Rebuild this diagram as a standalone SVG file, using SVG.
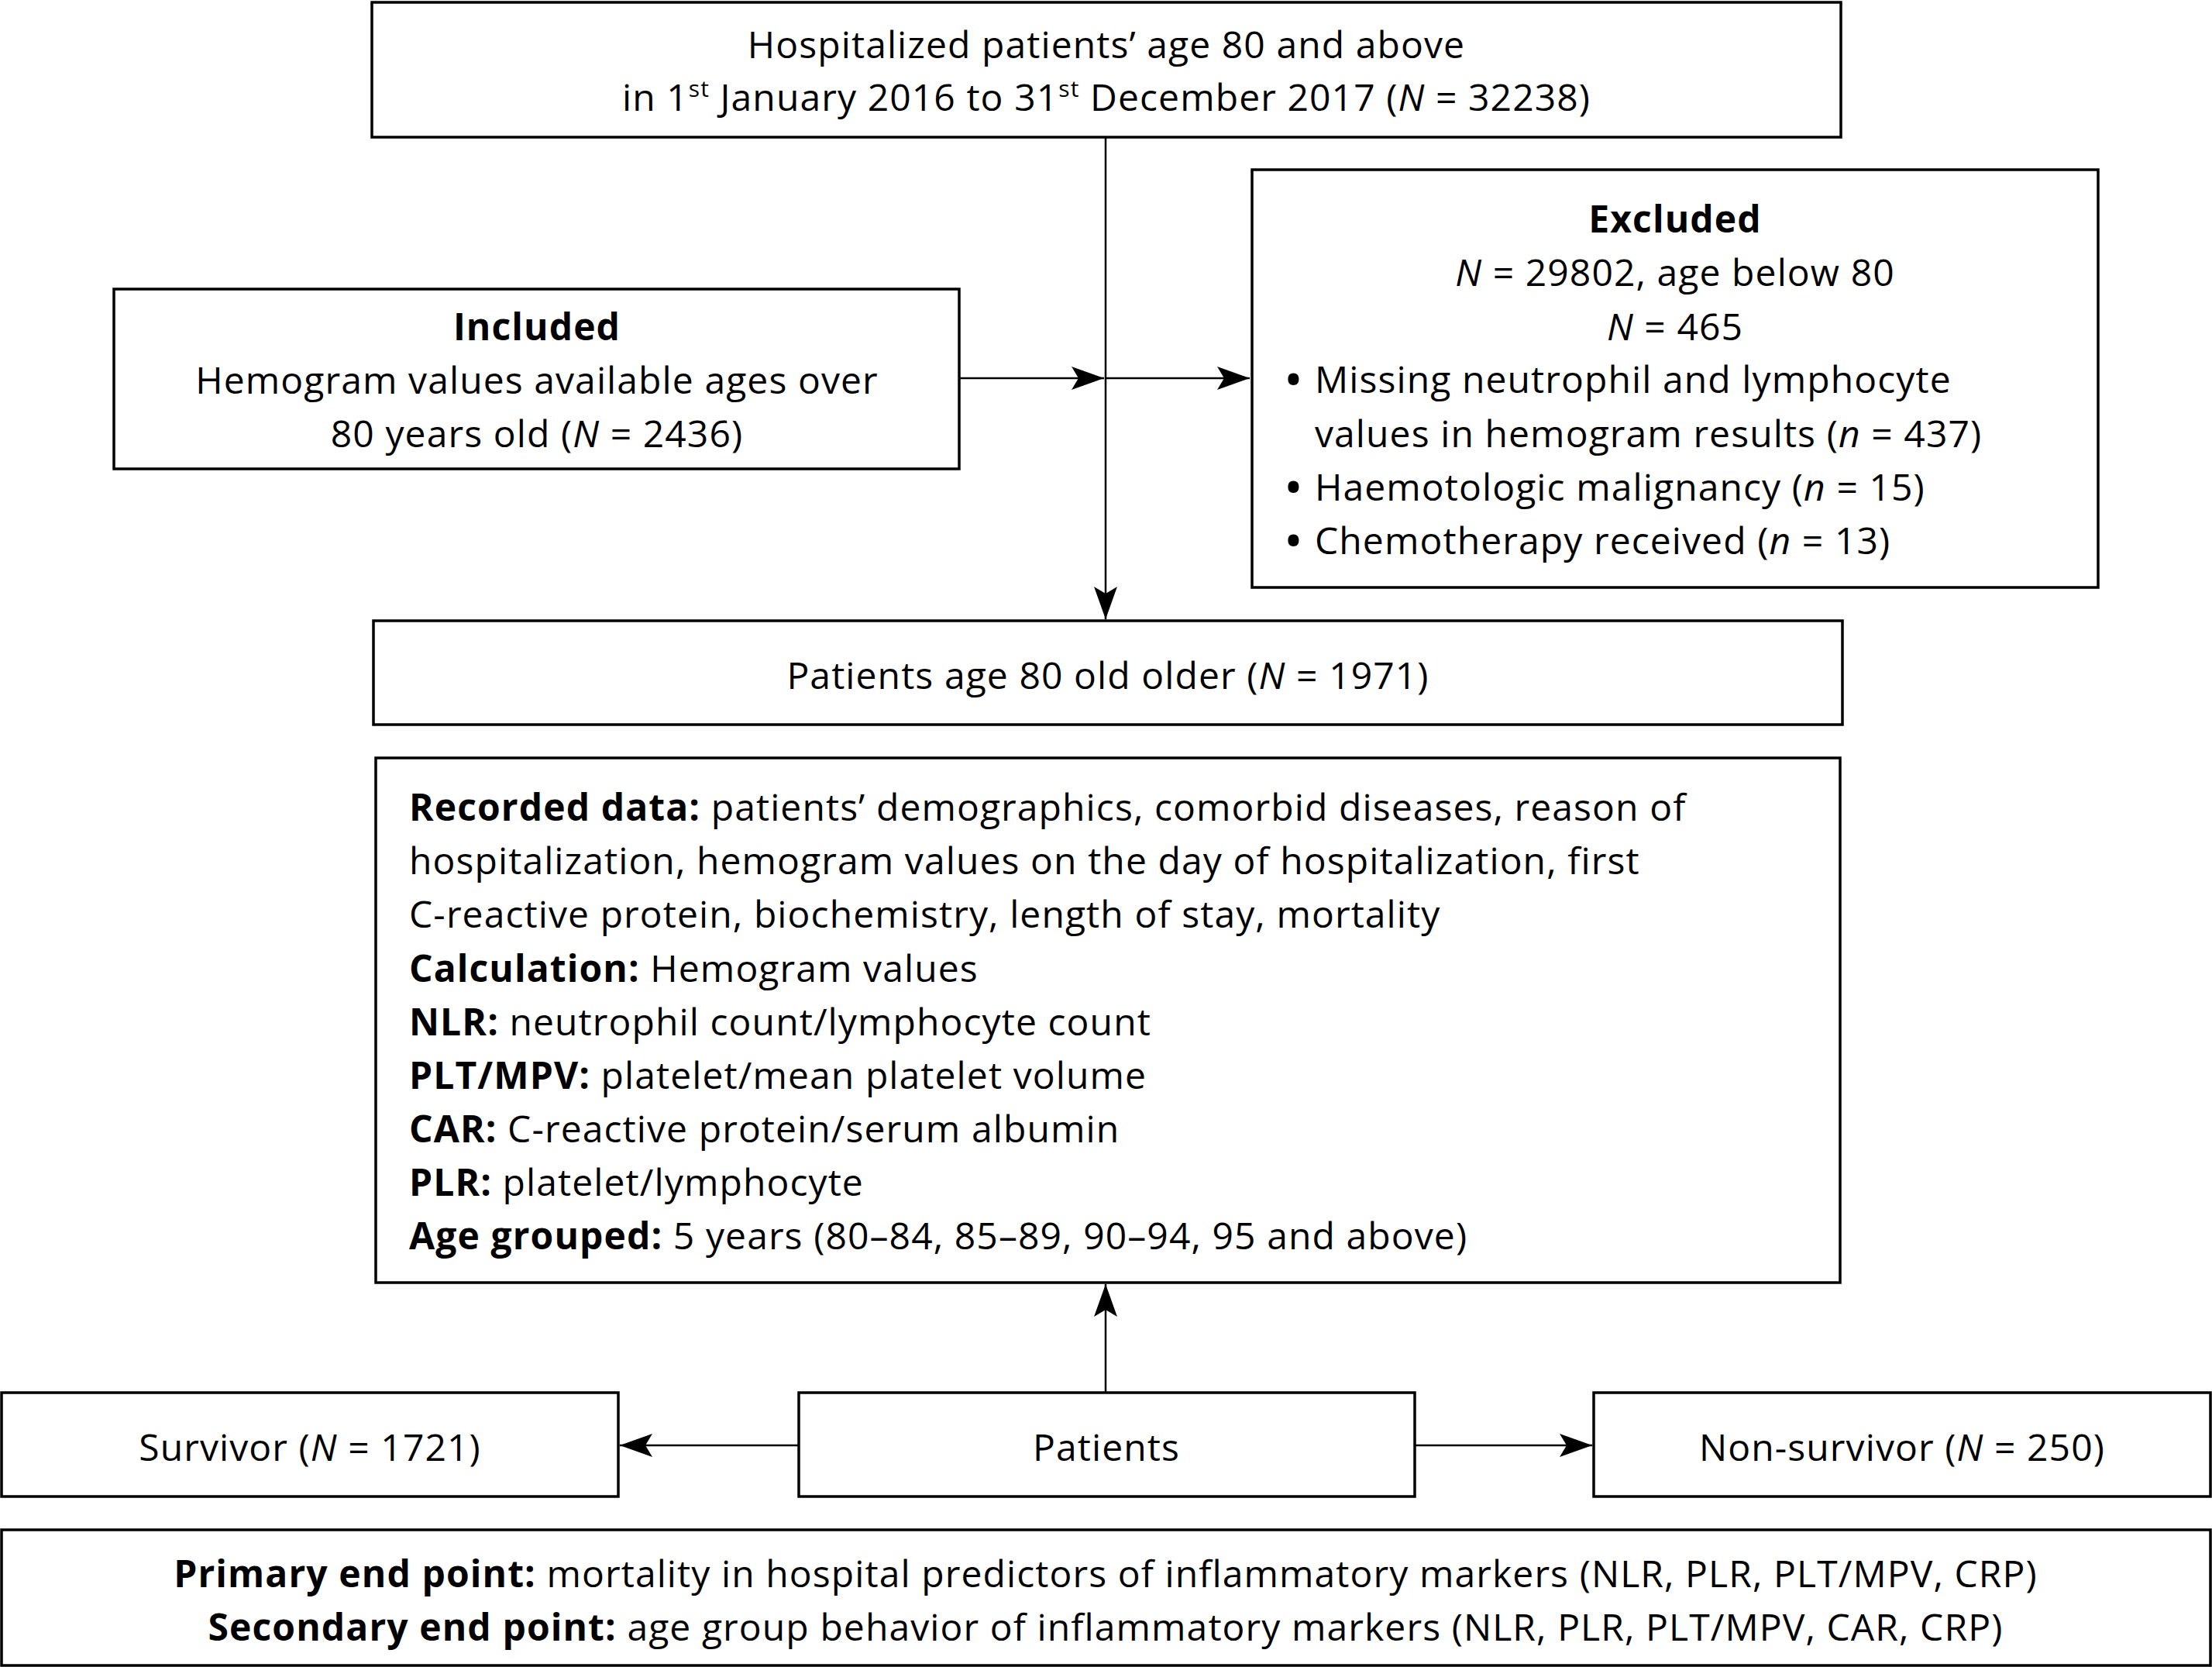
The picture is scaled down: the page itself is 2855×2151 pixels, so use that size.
<svg xmlns="http://www.w3.org/2000/svg" width="2855" height="2151" viewBox="0 0 2855 2151">
<style>
.box{fill:#fff;stroke:#000;stroke-width:3.5}
.t{font-family:"Open Sans","DejaVu Sans",sans-serif;font-size:48px;letter-spacing:1.1px;fill:#000}
.c{text-anchor:middle}
.b{font-weight:bold}
.i{font-style:italic}
.bl{font-size:50px;font-weight:bold}
.con{stroke:#000;stroke-width:2.5;fill:none}
</style>
<defs>
<marker id="ah" markerUnits="userSpaceOnUse" markerWidth="44" markerHeight="30" refX="42" refY="15" orient="auto">
<path d="M0,0 L42,15 L0,30 L9,15 Z" fill="#000"/>
</marker>
</defs>
<rect width="2855" height="2151" fill="#fff"/>
<g id="connectors">
<line class="con" x1="1427" y1="177" x2="1427" y2="799" marker-end="url(#ah)"/>
<line class="con" x1="1238" y1="488" x2="1425" y2="488" marker-end="url(#ah)"/>
<line class="con" x1="1427" y1="488" x2="1613" y2="488" marker-end="url(#ah)"/>
<line class="con" x1="1427" y1="1797" x2="1427" y2="1657" marker-end="url(#ah)"/>
<line class="con" x1="1031" y1="1865" x2="800" y2="1865" marker-end="url(#ah)"/>
<line class="con" x1="1826" y1="1865" x2="2055" y2="1865" marker-end="url(#ah)"/>
</g>
<g id="top">
<rect class="box" x="480" y="3" width="1896" height="174"/>
<text class="t c" x="1428" y="75">Hospitalized patients’ age 80 and above</text>
<text class="t c" x="1428" y="143">in 1<tspan font-size="30" dy="-18">st</tspan><tspan dy="18"> January 2016 to 31</tspan><tspan font-size="30" dy="-18">st</tspan><tspan dy="18"> December 2017 (</tspan><tspan class="i">N</tspan> = 32238)</text>
</g>
<g id="included">
<rect class="box" x="147" y="373" width="1091" height="232"/>
<text class="t c b" x="693" y="439">Included</text>
<text class="t c" x="693" y="508">Hemogram values available ages over</text>
<text class="t c" x="693" y="577">80 years old (<tspan class="i">N</tspan> = 2436)</text>
</g>
<g id="excluded">
<rect class="box" x="1616" y="219" width="1092" height="539"/>
<text class="t c b" x="2162" y="300">Excluded</text>
<text class="t c" x="2162" y="369"><tspan class="i">N</tspan> = 29802, age below 80</text>
<text class="t c" x="2162" y="439"><tspan class="i">N</tspan> = 465</text>
<text class="t bl" x="1660" y="508">•</text>
<text class="t" x="1697" y="507">Missing neutrophil and lymphocyte</text>
<text class="t" x="1697" y="577">values in hemogram results (<tspan class="i">n</tspan> = 437)</text>
<text class="t bl" x="1660" y="647">•</text>
<text class="t" x="1697" y="646">Haemotologic malignancy (<tspan class="i">n</tspan> = 15)</text>
<text class="t bl" x="1660" y="716">•</text>
<text class="t" x="1697" y="715">Chemotherapy received (<tspan class="i">n</tspan> = 13)</text>
</g>
<g id="patients80">
<rect class="box" x="482" y="801" width="1896" height="134"/>
<text class="t c" x="1430" y="889">Patients age 80 old older (<tspan class="i">N</tspan> = 1971)</text>
</g>
<g id="recorded">
<rect class="box" x="485" y="978" width="1890" height="677"/>
<text class="t" x="528" y="1059"><tspan class="b">Recorded data:</tspan> patients’ demographics, comorbid diseases, reason of</text>
<text class="t" x="528" y="1128">hospitalization, hemogram values on the day of hospitalization, first</text>
<text class="t" x="528" y="1197">C-reactive protein, biochemistry, length of stay, mortality</text>
<text class="t" x="528" y="1267"><tspan class="b">Calculation:</tspan> Hemogram values</text>
<text class="t" x="528" y="1336"><tspan class="b">NLR:</tspan> neutrophil count/lymphocyte count</text>
<text class="t" x="528" y="1405"><tspan class="b">PLT/MPV:</tspan> platelet/mean platelet volume</text>
<text class="t" x="528" y="1474"><tspan class="b">CAR:</tspan> C-reactive protein/serum albumin</text>
<text class="t" x="528" y="1543"><tspan class="b">PLR:</tspan> platelet/lymphocyte</text>
<text class="t" x="528" y="1612"><tspan class="b">Age grouped:</tspan> 5 years (80–84, 85–89, 90–94, 95 and above)</text>
</g>
<g id="survivor">
<rect class="box" x="2" y="1797" width="796" height="134"/>
<text class="t c" x="400" y="1885">Survivor (<tspan class="i">N</tspan> = 1721)</text>
</g>
<g id="patients">
<rect class="box" x="1031" y="1797" width="795" height="134"/>
<text class="t c" x="1428" y="1885">Patients</text>
</g>
<g id="nonsurvivor">
<rect class="box" x="2057" y="1797" width="796" height="134"/>
<text class="t c" x="2455" y="1885">Non-survivor (<tspan class="i">N</tspan> = 250)</text>
</g>
<g id="endpoints">
<rect class="box" x="2" y="1974" width="2851" height="175"/>
<text class="t c" x="1427" y="2048"><tspan class="b">Primary end point:</tspan> mortality in hospital predictors of inflammatory markers (NLR, PLR, PLT/MPV, CRP)</text>
<text class="t c" x="1427" y="2117"><tspan class="b">Secondary end point:</tspan> age group behavior of inflammatory markers (NLR, PLR, PLT/MPV, CAR, CRP)</text>
</g>
</svg>
